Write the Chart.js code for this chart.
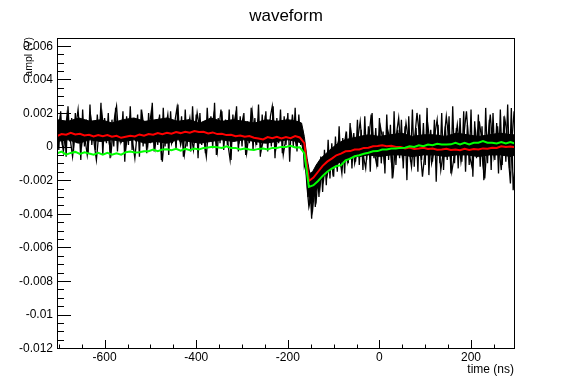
<!DOCTYPE html>
<html>
<head>
<meta charset="utf-8">
<title>waveform</title>
<script src="https://cdn.jsdelivr.net/npm/chart.js@4.4.1/dist/chart.umd.min.js"></script>
<style>
  html, body { margin: 0; padding: 0; background: #fff; }
  canvas { display: block; }
</style>
</head>
<body>
<canvas id="grafico" width="572" height="388"></canvas>
<script>
// Valores em mV (o eixo mostra em V)
const inicio = -704;

// Traços pretos (várias formas de onda sobrepostas), amostra a cada 4 ns
const passoPreto = 4;
const preto = [
  1.8, -0.2, 2.1, 0.1, 1.5, -0.6, 2.4, 0.3, 1.7, -0.3,
  2.0, 0.2, 1.4, -0.8, 2.2, 0.0, 1.6, -0.4, 2.5, 0.1,
  1.5, -0.2, 1.9, 0.3, 2.6, -0.5, 1.7, 0.2, 2.0, -0.7,
  1.6, 0.0, 2.3, -0.3, 1.4, 0.2, 2.1, -0.9, 1.8, 0.1,
  2.4, -0.2, 1.7, 0.3, 1.9, -0.6, 2.2, 0.0, 1.5, -0.4,
  2.0, 0.2, 2.6, -0.3, 1.6, 0.1, 1.9, -0.8, 2.3, 0.0,
  1.7, -0.5, 2.1, 0.2, 1.4, -0.2, 2.5, 0.3, 1.8, -0.6,
  2.2, 0.0, 1.6, -0.3, 2.4, 0.2, 1.9, -0.7, 2.0, 0.1,
  1.5, -0.4, 2.3, 0.3, 1.8, -0.1, 2.6, -0.5, 1.7, 0.2,
  2.1, -0.2, 1.6, 0.1, 2.2, -0.8, 1.9, 0.3, 2.4, -0.3,
  1.8, 0.0, 2.0, -0.5, 1.5, 0.2, 2.3, -0.2, 1.7, 0.1,
  2.5, -0.6, 1.9, 0.2, 2.1, -0.3, 1.6, 0.0, 2.4, -0.7,
  1.7, 0.2, 2.2, -0.4, 1.8, 0.1, 2.0, -0.9, 1.6, 0.0,
  2.3, -0.3, 1.9, 0.1, 1.0, -1.2, -0.8, -3.0, -2.0, -4.3,
  -1.6, -3.6, -1.2, -3.0, -0.6, -2.7, -0.2, -2.3, 0.4, -1.9,
  0.2, -1.8, 0.6, -1.5, 1.2, -1.2, 0.5, -1.6, 0.9, -1.0,
  1.4, -1.3, 0.8, -0.9, 1.6, -1.1, 1.0, -1.4, 1.8, -0.8,
  1.2, -1.5, 2.0, -0.7, 1.1, -1.2, 1.7, -1.0, 0.9, -1.6,
  1.9, -0.8, 1.3, -1.9, 2.1, -1.1, 1.0, -0.7, 1.6, -1.3,
  1.2, -2.0, 1.8, -0.9, 2.2, -1.2, 1.1, -1.5, 1.9, -0.8,
  1.4, -1.1, 2.3, -1.7, 1.0, -0.9, 1.6, -2.1, 1.3, -1.0,
  2.0, -1.4, 1.2, -0.8, 1.8, -1.6, 2.4, -1.0, 1.1, -1.3,
  1.7, -0.9, 2.1, -1.5, 1.3, -1.1, 2.2, -1.8, 1.5, -0.7,
  1.9, -1.2, 1.2, -2.0, 2.3, -1.0, 1.6, -1.4, 2.0, -0.8,
  1.4, -1.6, 2.2, -1.1, 1.8, -0.9, 2.5, -1.3, 2.3, -2.6,
  -1.2
];
// segundo traço, deslocado 2 ns
const inicio2 = -702;
const preto2 = [
  0.9, 1.6, 0.4, -0.3, 0.8, 1.9, 1.2, 0.2, -0.6, 0.5,
  1.4, 2.2, 0.7, 0.1, 1.1, 0.3, -0.5, 0.6, 1.7, 0.9,
  0.0, -0.8, 0.4, 1.3, 2.0, 1.0, 0.5, 1.5, 0.2, -0.4,
  0.8, 1.8, 2.4, 0.9, 0.3, 1.2, 0.6, -0.2, 0.7, 1.6,
  1.0, 0.1, -0.7, 0.5, 1.4, 0.8, 1.9, 1.1, 0.4, 0.0,
  1.3, 2.1, 0.6, -0.1, 0.9, 1.5, 0.3, -0.9, 0.4, 1.2,
  1.9, 0.7, 0.2, 1.0, 1.6, 2.3, 0.8, 0.1, 0.6, -0.5,
  0.3, 1.1, 1.7, 0.5, -0.2, 0.9, 2.0, 1.3, 0.4, 1.0,
  0.2, -0.6, 0.8, 1.5, 0.9, 1.8, 0.5, -0.3, 1.2, 2.2,
  1.0, 0.4, 1.4, 0.0, -0.8, 0.6, 1.3, 1.9, 0.7, 0.3,
  1.1, 1.7, 0.6, -0.4, 0.5, 1.2, 2.1, 0.9, 0.2, 1.4,
  0.8, -0.2, 0.3, 1.6, 1.0, 0.4, 1.8, 2.4, 0.7, -0.1,
  0.6, 1.3, 0.9, -0.5, 0.2, 1.5, 1.1, 0.5, 1.9, 0.8,
  0.1, 1.2, 0.6, 0.9, 0.3, -0.9, -2.4, -3.6, -3.1, -3.8,
  -2.6, -3.2, -1.8, -2.5, -1.4, -2.0, -0.9, -1.7, -1.2, -0.4,
  -1.5, -0.6, -1.1, 0.3, -0.8, -1.6, -0.2, 0.6, -0.9, -0.3,
  0.9, 0.1, -1.0, -0.4, 0.7, 1.5, 0.2, -0.7, -1.3, 0.0,
  0.8, 1.9, 0.4, -0.5, -1.1, 0.3, 1.2, 0.6, -0.8, -0.2,
  1.0, 0.5, -0.9, -1.6, -0.3, 0.9, 1.7, 0.2, -0.6, 0.4,
  1.4, 0.6, -0.4, -1.2, 0.1, 0.8, 2.0, 1.0, -0.5, -1.8,
  -0.7, 0.5, 1.2, 0.3, -1.0, -0.4, 0.9, 1.6, 0.1, -1.4,
  -0.6, 0.7, 1.8, 0.8, -0.3, -1.5, -0.8, 0.4, 1.3, 0.2,
  -0.9, 0.0, 1.1, 2.1, 0.6, -0.7, -1.2, 0.3, 0.9, -0.4,
  1.5, 0.7, -1.1, -1.9, -0.2, 0.8, 1.9, 0.5, -0.6, 0.2,
  1.2, -0.3, -1.4, 0.4, 1.6, 0.9, -0.8, -2.2, 0.6, 2.1
];

// Faixa densa (núcleo do feixe preto)
const tempoNucleo = [
  -704, -680, -656, -632, -608, -584, -560, -536, -512, -488,
  -464, -440, -416, -392, -368, -344, -320, -296, -272, -248,
  -224, -200, -180, -170, -164, -158, -152, -146, -138, -128,
  -116, -104, -90, -76, -60, -44, -24, 0, 24, 48,
  72, 96, 120, 144, 168, 192, 216, 240, 264, 288, 296
];
const nucleoAlto = [
  1.6, 1.5, 1.7, 1.5, 1.6, 1.4, 1.6, 1.7, 1.5, 1.6,
  1.7, 1.5, 1.6, 1.4, 1.7, 1.5, 1.6, 1.5, 1.4, 1.6,
  1.5, 1.6, 1.5, 1.4, 0.6, -0.7, -1.6, -1.5, -1.1, -0.7,
  -0.4, -0.1, 0.2, 0.4, 0.5, 0.6, 0.7, 0.6, 0.7, 0.8,
  0.6, 0.7, 0.7, 0.6, 0.8, 0.7, 0.6, 0.7, 0.8, 0.7, 0.7
];
const nucleoBaixo = [
  0.3, 0.4, 0.2, 0.4, 0.3, 0.4, 0.3, 0.4, 0.2, 0.3,
  0.2, 0.4, 0.3, 0.2, 0.3, 0.4, 0.3, 0.4, 0.3, 0.2,
  0.3, 0.4, 0.3, 0.2, -0.6, -2.0, -3.4, -3.1, -2.6, -2.0,
  -1.6, -1.3, -1.0, -0.8, -0.6, -0.6, -0.5, -0.6, -0.5, -0.5,
  -0.6, -0.5, -0.5, -0.6, -0.5, -0.5, -0.6, -0.5, -0.5, -0.6, -0.5
];

// Médias (vermelho e verde), amostra a cada 10 ns
const passoMedia = 10;
const mediaVermelha = [
  0.62, 0.74, 0.70, 0.82, 0.72, 0.76, 0.66, 0.70, 0.60, 0.68,
  0.62, 0.68, 0.58, 0.64, 0.52, 0.58, 0.64, 0.60, 0.72, 0.64,
  0.74, 0.70, 0.80, 0.74, 0.82, 0.76, 0.86, 0.80, 0.88, 0.82,
  0.92, 0.86, 0.88, 0.78, 0.84, 0.74, 0.76, 0.68, 0.70, 0.62,
  0.66, 0.58, 0.62, 0.52, 0.48, 0.42, 0.56, 0.50, 0.58, 0.48,
  0.56, 0.50, 0.62, 0.54, 0.20, -2.05, -1.85, -1.50, -1.15, -0.90,
  -0.72, -0.52, -0.42, -0.28, -0.27, -0.18, -0.17, -0.08, -0.07, 0.02,
  0.03, 0.07, 0.02, 0.04, -0.02, -0.03, -0.12, -0.06, -0.14, -0.12,
  -0.08, -0.15, -0.12, -0.19, -0.17, -0.13, -0.21, -0.17, -0.22, -0.14,
  -0.21, -0.15, -0.18, -0.11, -0.13, -0.07, -0.09, 0.01, -0.03, 0.00,
  -0.04
];
const mediaVerde = [
  -0.40, -0.30, -0.48, -0.38, -0.32, -0.44, -0.34, -0.42, -0.48, -0.38,
  -0.48, -0.38, -0.48, -0.40, -0.48, -0.34, -0.30, -0.36, -0.34, -0.28,
  -0.28, -0.18, -0.28, -0.18, -0.16, -0.22, -0.14, -0.24, -0.14, -0.22,
  -0.12, -0.18, -0.08, -0.06, -0.02, -0.04, -0.08, 0.02, -0.08, -0.08,
  -0.18, -0.12, -0.18, -0.20, -0.14, -0.12, -0.18, -0.08, -0.08, -0.02,
  -0.02, 0.04, -0.06, -0.04, -0.40, -2.40, -2.30, -2.05, -1.75, -1.50,
  -1.32, -1.16, -1.12, -0.82, -0.72, -0.58, -0.52, -0.43, -0.37, -0.28,
  -0.27, -0.18, -0.17, -0.12, -0.12, -0.08, -0.07, 0.02, -0.02, 0.07,
  0.02, 0.12, 0.08, 0.17, 0.12, 0.12, 0.13, 0.22, 0.13, 0.22,
  0.13, 0.22, 0.23, 0.32, 0.23, 0.22, 0.18, 0.27, 0.18, 0.27,
  0.18
];

// Eixos
const xMin = -704, xMax = 296;
const yMin = -12.05, yMax = 6.46;
const xTicks = [-600, -400, -200, 0, 200];
const xTickLabels = ["-600", "-400", "-200", "0", "200"];
const yTicks = [6, 4, 2, 0, -2, -4, -6, -8, -10, -12];
const yTickLabels = ["0.006", "0.004", "0.002", "0", "-0.002", "-0.004", "-0.006", "-0.008", "-0.01", "-0.012"];

const fonte = '"Liberation Sans", Arial, Helvetica, sans-serif';

const pontos = (tempos, valores) => valores.map((v, i) => ({ x: tempos[i], y: v }));
const grade = (t0, passo, valores) => valores.map((_, i) => t0 + passo * i);

// Moldura, marcas e textos no estilo ROOT
const moldura = {
  id: "moldura",
  beforeDraw(chart) {
    const { ctx, width, height } = chart;
    ctx.save();
    ctx.fillStyle = "#fff";
    ctx.fillRect(0, 0, width, height);
    ctx.restore();
  },
  afterDraw(chart) {
    const { ctx, chartArea: a, scales: { x, y } } = chart;
    ctx.save();
    ctx.strokeStyle = "#000";
    ctx.lineWidth = 1;
    ctx.strokeRect(a.left + 0.5, a.top + 0.5, a.right - a.left - 1, a.bottom - a.top - 1);

    // marcas do eixo y (para dentro)
    ctx.beginPath();
    for (let v = -12; v <= 6.001; v += 0.5) {
      const py = Math.round(y.getPixelForValue(v)) + 0.5;
      const major = Math.abs(v % 2) < 0.001;
      ctx.moveTo(a.left, py);
      ctx.lineTo(a.left + (major ? 14 : 7), py);
    }
    // marcas do eixo x
    for (let v = -700; v <= 250; v += 50) {
      const px = Math.round(x.getPixelForValue(v)) + 0.5;
      const major = v % 200 === 0;
      ctx.moveTo(px, a.bottom);
      ctx.lineTo(px, a.bottom - (major ? 9 : 4.5));
    }
    ctx.stroke();

    ctx.fillStyle = "#000";
    ctx.font = "12px " + fonte;
    ctx.textAlign = "right";
    ctx.textBaseline = "middle";
    yTicks.forEach((v, i) => {
      ctx.fillText(yTickLabels[i], 53, y.getPixelForValue(v) + 0.5);
    });
    ctx.textAlign = "center";
    xTicks.forEach((v, i) => {
      ctx.fillText(xTickLabels[i], x.getPixelForValue(v), 358);
    });

    // títulos dos eixos
    ctx.textAlign = "right";
    ctx.fillText("time (ns)", 514, 370);
    ctx.save();
    ctx.translate(32, 37);
    ctx.rotate(-Math.PI / 2);
    ctx.font = "10.5px " + fonte;
    ctx.textBaseline = "alphabetic";
    ctx.fillText("ampl (V)", 0, 0);
    ctx.restore();

    // título
    ctx.font = "17px " + fonte;
    ctx.textAlign = "center";
    ctx.textBaseline = "middle";
    ctx.fillText("waveform", 286, 16);
    ctx.restore();
  }
};

const ctx = document.getElementById("grafico").getContext("2d");
new Chart(ctx, {
  type: "line",
  data: {
    datasets: [
      {
        label: "verde",
        data: pontos(grade(inicio, passoMedia, mediaVerde), mediaVerde),
        borderColor: "#00ff00",
        borderWidth: 2,
        order: 0
      },
      {
        label: "vermelho",
        data: pontos(grade(inicio, passoMedia, mediaVermelha), mediaVermelha),
        borderColor: "#ff0000",
        borderWidth: 2,
        order: 1
      },
      {
        label: "preto",
        data: pontos(grade(inicio, passoPreto, preto), preto),
        borderColor: "#000",
        borderWidth: 1.3,
        order: 2
      },
      {
        label: "preto 2",
        data: pontos(grade(inicio2, passoPreto, preto2), preto2),
        borderColor: "#000",
        borderWidth: 1.3,
        order: 3
      },
      {
        label: "nucleo alto",
        data: pontos(tempoNucleo, nucleoAlto),
        borderColor: "#000",
        backgroundColor: "#000",
        borderWidth: 1,
        fill: "+1",
        order: 4
      },
      {
        label: "nucleo baixo",
        data: pontos(tempoNucleo, nucleoBaixo),
        borderColor: "#000",
        borderWidth: 1,
        order: 5
      }
    ]
  },
  options: {
    responsive: false,
    animation: false,
    devicePixelRatio: 1,
    layout: { padding: { left: 57, right: 57, top: 38, bottom: 39 } },
    elements: { point: { radius: 0 }, line: { tension: 0 } },
    plugins: {
      legend: { display: false },
      tooltip: { enabled: false }
    },
    scales: {
      x: { type: "linear", min: xMin, max: xMax, display: false },
      y: { type: "linear", min: yMin, max: yMax, display: false }
    }
  },
  plugins: [moldura]
});
</script>
</body>
</html>
